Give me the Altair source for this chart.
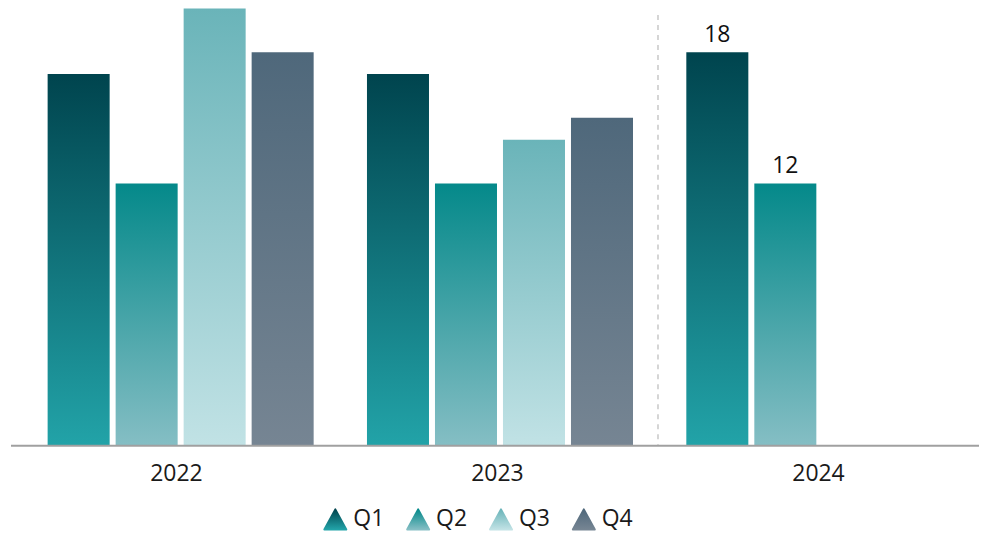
import altair as alt
import pandas as pd

years = ["2022", "2023", "2024"]
quarters = ["Q1", "Q2", "Q3", "Q4"]
values_2022 = [17, 12, 20, 18]
values_2023 = [17, 12, 14, 15]
values_2024 = [18, 12]
separator_year = ["2024"]

rows = []
for y, vals in zip(years, [values_2022, values_2023, values_2024]):
    for q, v in zip(quarters, vals):
        rows.append({"year": y, "quarter": q, "value": v})
df = pd.DataFrame(rows)

grad_colors = {
    "Q1": ("#00444E", "#22A3A8"),
    "Q2": ("#04898A", "#85BEC4"),
    "Q3": ("#6AB4B9", "#C1E2E5"),
    "Q4": ("#4F687B", "#768593"),
}

def grad(q):
    top, bottom = grad_colors[q]
    return {"gradient": "linear", "x1": 0, "x2": 0, "y1": 0, "y2": 1,
            "stops": [{"offset": 0, "color": top}, {"offset": 1, "color": bottom}]}

FONT = "Open Sans"
BAR_RANGE = [10, 970]
AXIS_RANGE = [5, 970]
Y_SCALE = alt.Scale(domain=[0, 20], nice=False)

x_enc = alt.X(
    "year:N",
    scale=alt.Scale(domain=years, range=BAR_RANGE, paddingInner=0, paddingOuter=0),
    axis=None,
)
xoff_enc = alt.XOffset("quarter:N", scale=alt.Scale(domain=quarters, paddingInner=0.088, paddingOuter=0.392))
y_enc = alt.Y("value:Q", scale=Y_SCALE, axis=None)

layers = []
for q in quarters:
    layers.append(
        alt.Chart(df).transform_filter(alt.datum.quarter == q)
        .mark_bar(color=grad(q))
        .encode(x=x_enc, xOffset=xoff_enc, y=y_enc)
    )

labels = (
    alt.Chart(df).transform_filter(alt.datum.year == "2024")
    .mark_text(baseline="bottom", dy=-5, fontSize=23, font=FONT, color="#111111")
    .encode(x=x_enc, xOffset=xoff_enc, y=y_enc, text="value:Q")
)

bars = alt.layer(*layers, labels)

sep_df = pd.DataFrame({"year": separator_year, "top": [19.7], "bottom": [0]})
sep = (
    alt.Chart(sep_df)
    .mark_rule(strokeDash=[5, 5], color="#c8c8c8", strokeWidth=1.5)
    .encode(
        x=alt.X("year:N", bandPosition=0,
                scale=alt.Scale(domain=years, range=AXIS_RANGE, paddingInner=0, paddingOuter=0),
                axis=alt.Axis(title=None, labelAngle=0, ticks=False, domain=False,
                              labelFontSize=23, labelFont=FONT, labelColor="#1a1a1a",
                              labelPadding=17)),
        y=alt.Y("top:Q", scale=Y_SCALE, axis=None),
        y2="bottom:Q",
    )
)

baseline = (
    alt.Chart(pd.DataFrame({"base": [0]}))
    .mark_rule(color="#a0a0a0", strokeWidth=2)
    .encode(y=alt.Y("base:Q", scale=Y_SCALE, axis=None))
)

main = (
    alt.layer(sep, bars, baseline)
    .resolve_scale(x="independent")
    .properties(width=970, height=438)
)

leg_df = pd.DataFrame({"quarter": quarters})
leg_x = alt.X("quarter:N", scale=alt.Scale(type="point", domain=quarters, range=[325, 574], padding=0),
              axis=None)
TRI = "M-1,0.92L0,-0.92L1,0.92Z"
leg_layers = []
for q in quarters:
    leg_layers.append(
        alt.Chart(leg_df).transform_filter(alt.datum.quarter == q)
        .mark_point(shape=TRI, filled=True, fill=grad(q), stroke=grad(q), strokeWidth=2,
                    strokeJoin="round", size=484, opacity=1)
        .encode(x=leg_x)
    )
leg_text = (
    alt.Chart(leg_df)
    .mark_text(align="left", dx=18, fontSize=23, font=FONT, color="#1a1a1a")
    .encode(x=leg_x, text="quarter:N")
)
legend = alt.layer(*leg_layers, leg_text).properties(width=970, height=24)

chart = (
    alt.vconcat(main, legend, spacing=22)
    .properties(padding={"left": 2, "top": 0, "right": 0, "bottom": 0})
    .configure_view(stroke=None)
)

chart.save("out.html", embed_options={"renderer": "svg", "actions": False})
